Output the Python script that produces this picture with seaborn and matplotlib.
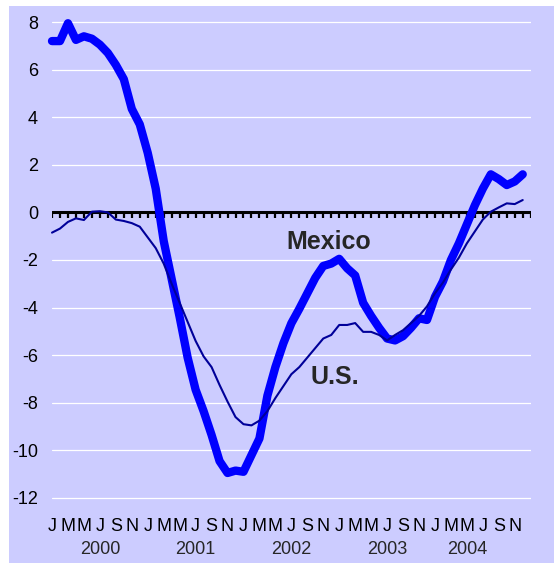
import numpy as np
import pandas as pd
import seaborn as sns
import matplotlib.pyplot as plt
import matplotlib.transforms as mtransforms
from matplotlib.patches import Rectangle


# -------------------------------------------------
# DATA (monthly, Jan 2000 - Dec 2004)
# -------------------------------------------------

months = np.arange(60)

mexico = [
    7.2, 7.2, 7.95, 7.25, 7.4, 7.3, 7.05, 6.7, 6.2, 5.6, 4.35, 3.7,
    2.5, 1.0, -1.2, -2.8, -4.4, -6.1, -7.45, -8.35, -9.35, -10.45, -10.95, -10.85,
    -10.9, -10.2, -9.5, -7.7, -6.5, -5.5, -4.66, -4.05, -3.4, -2.75, -2.25, -2.15,
    -1.95, -2.35, -2.65, -3.8, -4.35, -4.85, -5.3, -5.38, -5.2, -4.85, -4.45, -4.52,
    -3.55, -2.9, -2.0, -1.3, -0.5, 0.3, 1.0, 1.6, 1.4, 1.15, 1.3, 1.6,
]

us = [
    -0.85, -0.68, -0.4, -0.25, -0.32, 0.03, 0.05, 0.0, -0.3, -0.36, -0.45, -0.6,
    -1.05, -1.5, -2.15, -3.0, -3.8, -4.6, -5.4, -6.05, -6.5, -7.25, -7.95, -8.6,
    -8.9, -8.95, -8.75, -8.35, -7.8, -7.3, -6.8, -6.5, -6.1, -5.7, -5.3, -5.15,
    -4.73, -4.73, -4.65, -5.02, -5.02, -5.15, -5.38, -5.15, -4.95, -4.65, -4.35, -3.95,
    -3.4, -2.95, -2.4, -1.9, -1.3, -0.8, -0.3, 0.03, 0.21, 0.38, 0.35, 0.52,
]

month_letters = ["J", "M", "M", "J", "S", "N"]
years = ["2000", "2001", "2002", "2003", "2004"]
year_pos = [6, 18, 30, 42, 52]
y_ticks = list(range(-12, 9, 2))

BG = "#CCCCFF"


# -------------------------------------------------
# FIGURE
# -------------------------------------------------

sns.set_theme(style="white")
plt.rcParams["font.family"] = ["Liberation Sans", "DejaVu Sans"]

fig = plt.figure(figsize=(5.54, 5.63), dpi=100)
fig.patch.set_facecolor("white")
fig.patches.append(Rectangle((9 / 554, 0), 1, (563 - 6) / 563,
                             transform=fig.transFigure, facecolor=BG,
                             edgecolor="none", zorder=-10))

ax = fig.add_axes([52 / 554, (563 - 505.1) / 563, 478.7 / 554, 490.2 / 563])
ax.patch.set_alpha(0)

ax.set_xlim(0, 60)
ax.set_ylim(-12.3, 8.3)

for s in ax.spines.values():
    s.set_visible(False)

# grid
ax.set_yticks(y_ticks)
ax.grid(axis="y", color="white", lw=0.9, zorder=0)
ax.grid(axis="x", visible=False)

# zero line with month ticks
ax.axhline(0, color="black", lw=2.2, zorder=2)
ax.vlines(np.arange(61), -0.22, 0, color="black", lw=1.6, zorder=2)

# lines
sns.lineplot(x=months, y=mexico, color="#0000FF", lw=6, ax=ax,
             solid_capstyle="round", clip_on=False, zorder=3)
sns.lineplot(x=months, y=us, color="#000099", lw=1.5, ax=ax,
             clip_on=False, zorder=4)

# labels on the lines
ax.text(34.75, -1.25, "Mexico", fontsize=18, fontweight="bold",
        ha="center", va="center", zorder=5)
ax.text(35.4, -6.9, "U.S.", fontsize=18, fontweight="bold",
        ha="center", va="center", zorder=5)

# ticks
ax.set_xticks(months[::2])
ax.set_xticklabels(month_letters * len(years), fontsize=13)
ax.tick_params(axis="x", length=0, pad=9, colors="black")
ax.set_yticklabels([str(t) for t in y_ticks], fontsize=13)
ax.tick_params(axis="y", length=0, pad=10, colors="black")
ax.set_xlabel("")
ax.set_ylabel("")

trans = mtransforms.blended_transform_factory(ax.transData, ax.transAxes)
for pos, yr in zip(year_pos, years):
    ax.text(pos, (505.1 - 550) / 490.2, yr, transform=trans, fontsize=13,
            ha="center", va="center")

fig.savefig("out.png", dpi=100, facecolor=fig.get_facecolor())
